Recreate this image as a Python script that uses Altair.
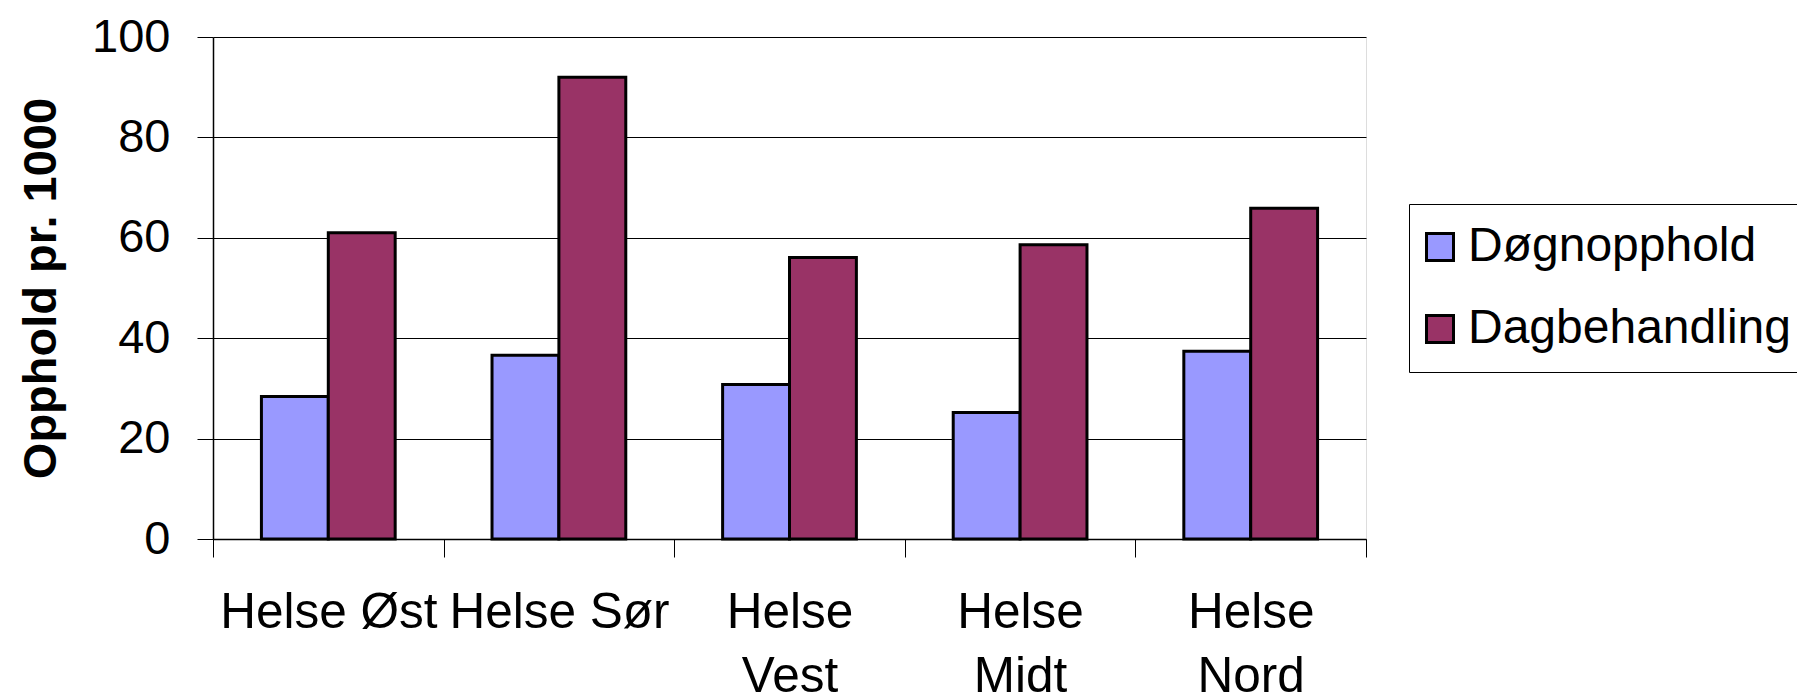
import altair as alt
import pandas as pd

categories = ["Helse Øst", "Helse Sør", "Helse Vest", "Helse Midt", "Helse Nord"]
label_lines = [["Helse Øst"], ["Helse Sør"], ["Helse", "Vest"], ["Helse", "Midt"], ["Helse", "Nord"]]
series = ["Døgnopphold", "Dagbehandling"]
dogn = [28.4, 36.6, 30.8, 25.2, 37.4]
dag = [61.0, 92.0, 56.1, 58.6, 65.9]
colors = ["#9999FF", "#993366"]
y_ticks = [0, 20, 40, 60, 80, 100]

rows = []
for i, c in enumerate(categories):
    rows.append({"region": c, "serie": series[0], "value": dogn[i]})
    rows.append({"region": c, "serie": series[1], "value": dag[i]})
df = pd.DataFrame(rows)

# label expression built from label lines
expr_parts = []
for c, lines in zip(categories, label_lines):
    arr = "[" + ",".join("'" + l + "'" for l in lines) + "]"
    expr_parts.append(f"datum.value == '{c}' ? {arr} : ")
label_expr = "".join(expr_parts) + "datum.value"

FONT = "Liberation Sans"

chart = alt.Chart(df).mark_bar(stroke="black", strokeWidth=3).encode(
    x=alt.X(
        "region:N",
        sort=categories,
        scale=alt.Scale(paddingInner=0, paddingOuter=0),
        axis=alt.Axis(
            title=None,
            labelAngle=0,
            labelExpr=label_expr,
            labelFont=FONT,
            labelFontSize=49.5,
            labelColor="black",
            labelLineHeight=64,
            labelPadding=31,
            labelBaseline="top",
            labelLimit=600,
            labelOverlap=False,
            tickBand="extent",
            tickSize=18,
            tickColor="black",
            tickWidth=1,
            domainColor="black",
            domainWidth=1.5,
            grid=False,
        ),
    ),
    xOffset=alt.XOffset(
        "serie:N", sort=series, scale=alt.Scale(paddingInner=0, paddingOuter=0.724)
    ),
    y=alt.Y(
        "value:Q",
        stack=None,
        scale=alt.Scale(domain=[0, 100], nice=False),
        axis=alt.Axis(
            title="Opphold pr. 1000",
            titleFont=FONT,
            titleFontSize=47,
            titleFontWeight="bold",
            titleColor="black",
            titleAngle=270,
            titleAlign="center",
            titleBaseline="alphabetic",
            titleX=-158,
            titleY=251,
            values=y_ticks,
            labelFont=FONT,
            labelFontSize=47,
            labelColor="black",
            labelPadding=27,
            tickSize=16,
            tickColor="black",
            tickWidth=1,
            domainColor="black",
            domainWidth=1.5,
            grid=True,
            gridColor="black",
            gridWidth=1,
        ),
    ),
    color=alt.Color(
        "serie:N",
        sort=series,
        scale=alt.Scale(domain=series, range=colors),
        legend=alt.Legend(
            title=None,
            orient="none",
            legendX=1196,
            legendY=167,
            padding=19,
            strokeColor="black",
            symbolType="square",
            symbolSize=729,
            symbolStrokeColor="black",
            symbolStrokeWidth=3,
            symbolOpacity=1,
            symbolOffset=-12,
            labelFont=FONT,
            labelFontSize=48,
            labelColor="black",
            labelOffset=4,
            rowPadding=34,
            labelLimit=1000,
        ),
    ),
).properties(
    width=1153,
    height=502,
    autosize=alt.AutoSizeParams(type="none"),
    padding={"left": 205, "top": 29, "right": 431, "bottom": 160},
).configure_view(
    fill="#C0C0C0",
    stroke="#808080",
    strokeWidth=2,
).configure(background="white")

chart.save("out.html", embed_options={"renderer": "svg", "actions": False})
